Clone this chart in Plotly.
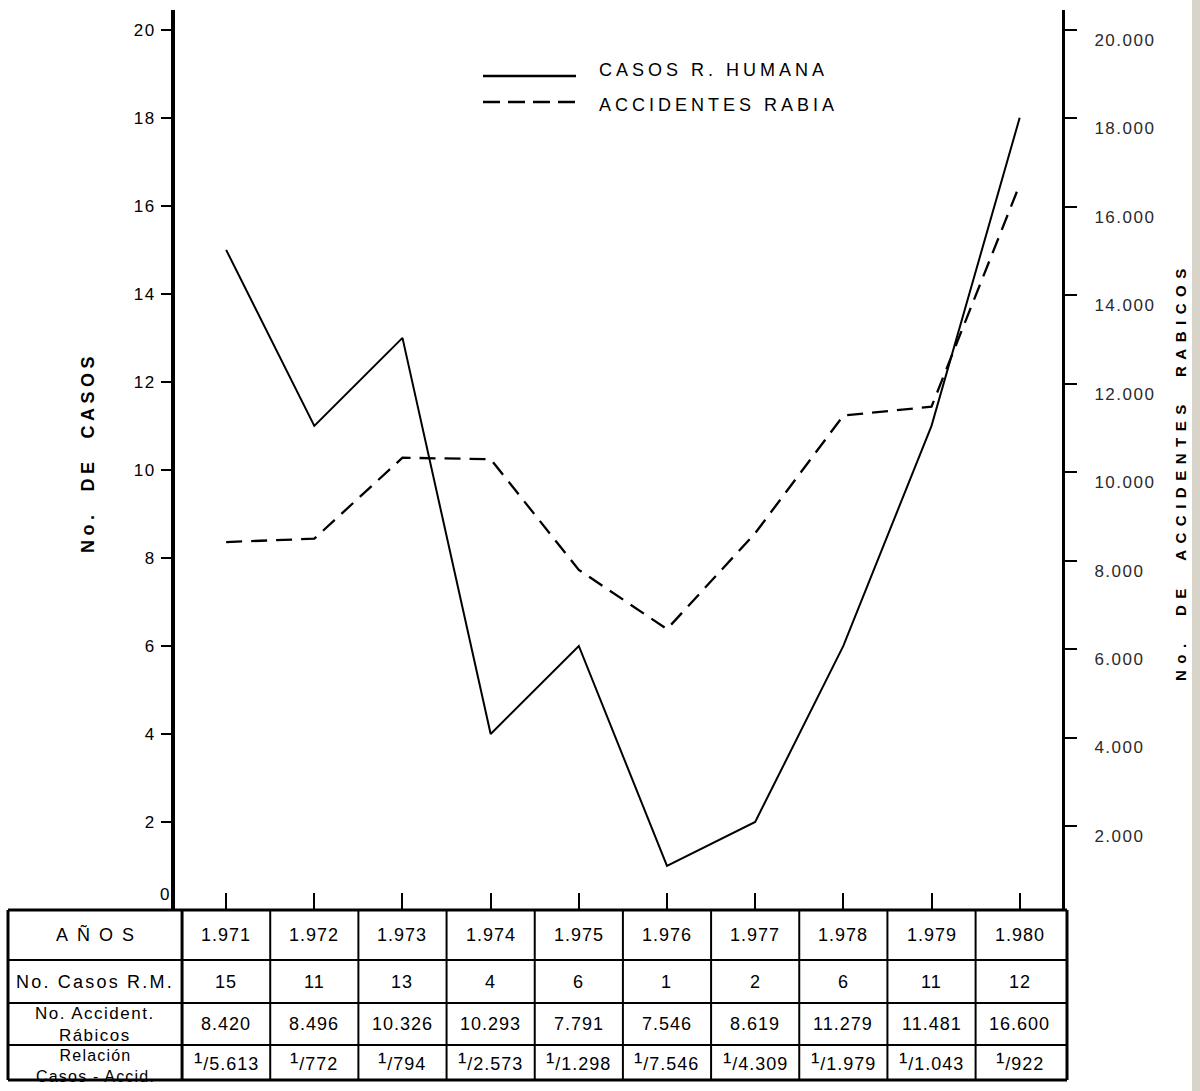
import plotly.graph_objects as go

# ---------------- data ----------------
years = ["1.971", "1.972", "1.973", "1.974", "1.975", "1.976", "1.977", "1.978", "1.979", "1.980"]
casos_tabla = ["15", "11", "13", "4", "6", "1", "2", "6", "11", "12"]
accid_tabla = ["8.420", "8.496", "10.326", "10.293", "7.791", "7.546", "8.619", "11.279", "11.481", "16.600"]
relacion = ["5.613", "772", "794", "2.573", "1.298", "7.546", "4.309", "1.979", "1.043", "922"]
# values as drawn in the chart
casos_plot = [15, 11, 13, 4, 6, 1, 2, 6, 11, 18]
accid_plot = [8420, 8496, 10326, 10293, 7791, 6450, 8619, 11279, 11481, 16500]
left_ticks = [2, 4, 6, 8, 10, 12, 14, 16, 18, 20]
right_ticks = [2000, 4000, 6000, 8000, 10000, 12000, 14000, 16000, 18000, 20000]
right_ticktext = ["2.000", "4.000", "6.000", "8.000", "10.000", "12.000", "14.000", "16.000", "18.000", "20.000"]
row_labels = ["AÑOS", "No. Casos R.M.", "No. Accident.<br>Rábicos", "Relación<br>Casos - Accid."]

# ---------------- layout constants ----------------
W, H = 1200, 1091
PL, PR, PT, PB = 175, 1062, 10, 910
X0, X1 = -0.58, 9.48
FONT = "Liberation Sans, Arial, Helvetica, sans-serif"


def pxx(p):
    return (p - PL) / (PR - PL)


def pxy(p):
    return (PB - p) / (PB - PT)


def data_to_px(x):
    return PL + (x - X0) / (X1 - X0) * (PR - PL)


def spaced(t, s):
    return '<span style="letter-spacing:%spx">%s</span>' % (s, t)


xs = list(range(len(years)))

fig = go.Figure()
fig.add_trace(go.Scatter(x=xs, y=casos_plot, mode="lines", name="CASOS R. HUMANA",
                         line=dict(color="black", width=2), yaxis="y"))
fig.add_trace(go.Scatter(x=xs, y=accid_plot, mode="lines", name="ACCIDENTES RABIA",
                         line=dict(color="black", width=2.3, dash="16px,9px"), yaxis="y2"))

shapes = []
annotations = []

# ---------------- table ----------------
T_LEFT, T_RIGHT = 8, 1067
row_lines = [910, 960, 1003, 1045, 1080]
col_bounds = [T_LEFT] + [data_to_px(i - 0.5) for i in range(len(years))] + [T_RIGHT]

for k, yb in enumerate(row_lines):
    w = 3 if k in (0, len(row_lines) - 1) else 2
    shapes.append(dict(type="line", xref="paper", yref="paper", x0=pxx(T_LEFT), x1=pxx(T_RIGHT),
                       y0=pxy(yb), y1=pxy(yb), line=dict(color="black", width=w)))
for k, xb in enumerate(col_bounds):
    w = 3 if k in (0, 1, len(col_bounds) - 1) else 2
    shapes.append(dict(type="line", xref="paper", yref="paper", x0=pxx(xb), x1=pxx(xb),
                       y0=pxy(row_lines[0]), y1=pxy(row_lines[-1]), line=dict(color="black", width=w)))

row_centers = [(row_lines[i] + row_lines[i + 1]) / 2 for i in range(4)]
label_cx = (T_LEFT + col_bounds[1]) / 2

label_spacing = [9, 2.2, 1.5, 1.2]
label_sizes = [18, 18, 17, 16]
label_dy = [0, 0, 0, 3]
for r, lab in enumerate(row_labels):
    annotations.append(dict(text=spaced(lab, label_spacing[r]), xref="paper", yref="paper",
                            x=pxx(label_cx + (4 if r == 0 else 0)),
                            y=pxy(row_centers[r] + label_dy[r]),
                            showarrow=False, xanchor="center", yanchor="middle",
                            font=dict(family=FONT, size=label_sizes[r], color="black")))

rel_text = ['<span style="font-size:25px">¹</span>/' + v for v in relacion]
rows_vals = [years, casos_tabla, accid_tabla, rel_text]
row_val_dy = [0, 0, 0, -2]
for r, vals in enumerate(rows_vals):
    for i, v in enumerate(vals):
        annotations.append(dict(text=spaced(v, 1), xref="x", yref="paper", x=i,
                                y=pxy(row_centers[r] + row_val_dy[r]),
                                showarrow=False, xanchor="center", yanchor="middle",
                                font=dict(family=FONT, size=18, color="black")))

# ---------------- legend ----------------
shapes.append(dict(type="line", xref="paper", yref="paper", x0=pxx(483), x1=pxx(576),
                   y0=pxy(76), y1=pxy(76), line=dict(color="black", width=2.5)))
shapes.append(dict(type="line", xref="paper", yref="paper", x0=pxx(483), x1=pxx(576),
                   y0=pxy(102), y1=pxy(102), line=dict(color="black", width=2.5, dash="17px,8px")))
annotations.append(dict(text=spaced("CASOS R. HUMANA", 4), xref="paper", yref="paper", x=pxx(597),
                        y=pxy(70), showarrow=False, xanchor="left", yanchor="middle",
                        font=dict(family=FONT, size=18, color="black")))
annotations.append(dict(text=spaced("ACCIDENTES RABIA", 4), xref="paper", yref="paper", x=pxx(597),
                        y=pxy(105), showarrow=False, xanchor="left", yanchor="middle",
                        font=dict(family=FONT, size=18, color="black")))

# ---------------- axis titles ----------------
annotations.append(dict(text=spaced("No.&nbsp;&nbsp;DE&nbsp;&nbsp;CASOS", 4.5),
                        xref="paper", yref="paper", x=pxx(88), y=pxy(453), textangle=-90,
                        showarrow=False, xanchor="center", yanchor="middle",
                        font=dict(family=FONT, size=18, color="black", weight="bold")))
annotations.append(dict(text=spaced("No.&nbsp;&nbsp;DE&nbsp;&nbsp;ACCIDENTES&nbsp;&nbsp;RABICOS", 6.5),
                        xref="paper", yref="paper", x=pxx(1180), y=pxy(472), textangle=-90,
                        showarrow=False, xanchor="center", yanchor="middle",
                        font=dict(family=FONT, size=15, color="black", weight="bold")))
# "0" label of left axis
annotations.append(dict(text="0", xref="paper", yref="y", x=0, y=0, xshift=-4, yshift=4,
                        showarrow=False, xanchor="right", yanchor="bottom",
                        font=dict(family=FONT, size=17, color="black")))

# scanned page edge
shapes.append(dict(type="rect", xref="paper", yref="paper", x0=pxx(1192), x1=pxx(1200),
                   y0=pxy(0), y1=pxy(H), fillcolor="#d9d4ca", line=dict(width=0), layer="below"))

fig.update_layout(
    width=W, height=H,
    margin=dict(l=PL, r=W - PR, t=PT, b=H - PB, pad=0),
    paper_bgcolor="white", plot_bgcolor="white",
    showlegend=False,
    font=dict(family=FONT, color="black"),
    xaxis=dict(range=[X0, X1], showgrid=False, zeroline=False, showline=False,
               tickmode="array", tickvals=xs, showticklabels=False,
               ticks="inside", ticklen=17, tickwidth=2, tickcolor="black"),
    yaxis=dict(range=[0, 20.45], showgrid=False, zeroline=False, showline=True,
               linewidth=4, linecolor="black", ticks="outside", ticklen=10, tickwidth=2,
               tickcolor="black", tickmode="array", tickvals=left_ticks,
               ticktext=[spaced(str(v), 1.5) for v in left_ticks],
               tickfont=dict(family=FONT, size=17, color="black"), ticklabelstandoff=2),
    yaxis2=dict(range=[100, 20450], overlaying="y", side="right", showgrid=False, zeroline=False,
                showline=True, linewidth=3, linecolor="black", ticks="outside", ticklen=12,
                tickwidth=2, tickcolor="black", tickmode="array", tickvals=right_ticks,
                ticktext=[spaced(t, 1.5) for t in right_ticktext],
                tickfont=dict(family=FONT, size=17, color="#2a2a2a"),
                ticklabelshift=10, ticklabelstandoff=14),
    shapes=shapes,
    annotations=annotations,
)

fig.write_html("out.html", config={"displayModeBar": False},
               post_script="document.body.style.margin='0';document.body.style.overflow='hidden';")
